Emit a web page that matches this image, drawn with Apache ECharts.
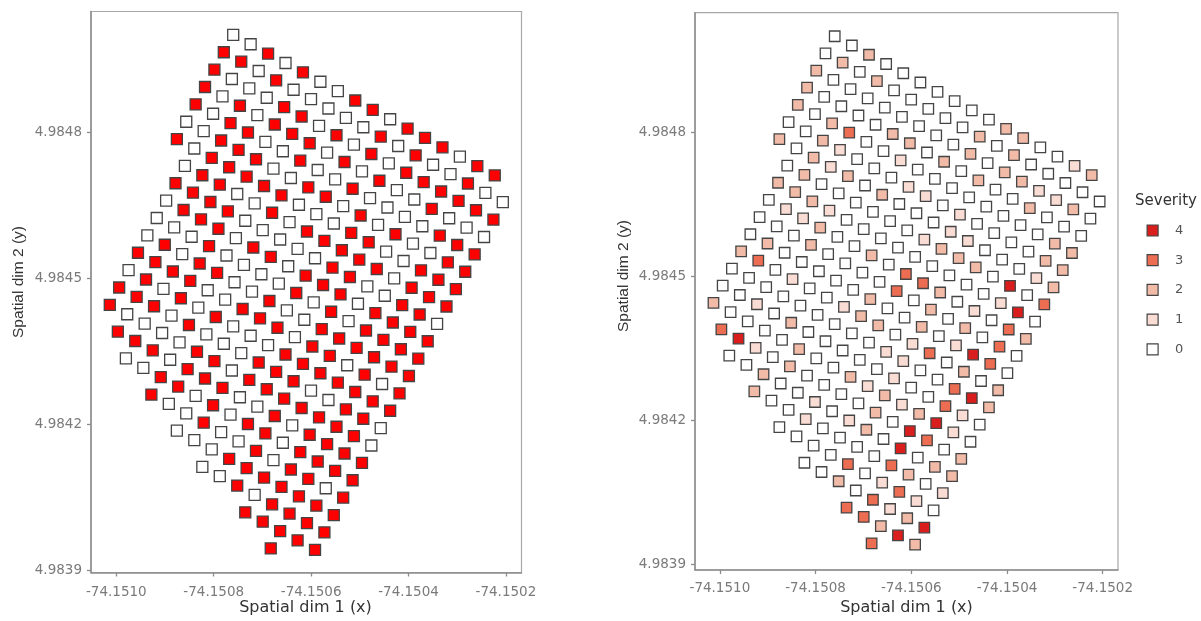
<!DOCTYPE html>
<html>
<head>
<meta charset="utf-8">
<script src="https://cdn.jsdelivr.net/npm/echarts@6/dist/echarts.min.js"></script>
<style>
html,body{margin:0;padding:0;background:#fff;}
#chart{width:1201px;height:621px;}
</style>
</head>
<body>
<div id="chart"></div>
<script>
// ---- Data: regular planting grid, read row by row (rows run down-right) ----
// lattice anchor (top plant) and the two lattice steps, in lon/lat degrees
const gridOrigin = [-74.150760, 4.985000];
const stepAlongRow = [3.5807e-5, -1.9267e-5];
const stepNextRow = [-1.9281e-5, -3.5716e-5];
// first column index present in each row
const rowFirstCol = [0,0,0,0,0,0,0,1,1,1,1,1,1,1,1,1,2,3,5,7,9,12,14];
// Panel A: infected (1) / healthy (0), one string per row
const infected = [
  "0010100110111011",
  "11010000010100100",
  "10001101010111111",
  "10101110101001000",
  "10110010010000111",
  "00111001101010011",
  "10111110001100111",
  "0110010111110111",
  "1111000001100110",
  "0111011011101111",
  "0001000010101111",
  "0101100100111111",
  "1111001110110101",
  "0101010001111111",
  "1110100011100110",
  "1000011011111110",
  "111011100101111",
  "00110101101111",
  "100100101101",
  "0001111111",
  "00101111",
  "11111",
  "1"
];
// Panel B: severity 0-4, one string per row
const severity = [
  "0020000000220012",
  "02020000020200000",
  "20000000020221120",
  "20000220202002000",
  "20230010000000022",
  "00210001101000022",
  "20212020001100012",
  "0200000012220403",
  "2221000000000140",
  "0112002033201032",
  "0002000030202030",
  "0200000200201430",
  "2301001220130202",
  "0000000001100342",
  "0010200000100310",
  "2000020021212410",
  "341020000204302",
  "00200101204022",
  "200100003201",
  "0000301310",
  "00203124",
  "33242",
  "3"
];
const severityLevels = ["4","3","2","1","0"];
const xTicks = [-74.1510, -74.1508, -74.1506, -74.1504, -74.1502];
const yTicks = [4.9839, 4.9842, 4.9845, 4.9848];

// ---- build point lists from the grid rows ----
function plantCoord(i, j) {
  return [gridOrigin[0] + i * stepAlongRow[0] + j * stepNextRow[0],
          gridOrigin[1] + i * stepAlongRow[1] + j * stepNextRow[1]];
}
const ptsA = [];
infected.forEach((row, j) => {
  for (let k = 0; k < row.length; k++) {
    const c = plantCoord(rowFirstCol[j] + k, j);
    ptsA.push([c[0], c[1], +row[k]]);
  }
});
const ptsB = [];
severity.forEach((row, j) => {
  for (let k = 0; k < row.length; k++) {
    const c = plantCoord(rowFirstCol[j] + k, j);
    ptsB.push([c[0], c[1], +row[k]]);
  }
});

const sevColors = {"0":"#FFFFFF","1":"#F9DCD3","2":"#F1BBA8","3":"#EC6D52","4":"#DA1E1E"};
const tickFont = "DejaVu Sans";
function makeX(idx, margin) {
  return {
    type: 'value', gridIndex: idx, min: -74.151052, max: -74.150168,
    splitLine: {show: false},
    axisLine: {show: true, onZero: false, lineStyle: {color: '#8c8c8c', width: 1.5}},
    axisTick: {show: true, length: 4, customValues: xTicks, lineStyle: {color: '#8c8c8c', width: 1.3}},
    axisLabel: {customValues: xTicks, formatter: v => v.toFixed(4), color: '#7a7a7a',
      fontFamily: tickFont, fontSize: 13.5, margin: margin}
  };
}
function makeY(idx, mn, mx) {
  return {
    type: 'value', gridIndex: idx, min: mn, max: mx,
    splitLine: {show: false},
    axisLine: {show: true, onZero: false, lineStyle: {color: '#8c8c8c', width: 1.5}},
    axisTick: {show: true, length: 4, customValues: yTicks, lineStyle: {color: '#8c8c8c', width: 1.3}},
    axisLabel: {customValues: yTicks, formatter: v => v.toFixed(4), color: '#7a7a7a',
      fontFamily: tickFont, fontSize: 13.5, margin: 9}
  };
}

const seriesB = severityLevels.map(s => ({
  name: s, type: 'scatter', xAxisIndex: 1, yAxisIndex: 1,
  symbol: 'rect', symbolSize: 10.5,
  itemStyle: {color: sevColors[s], borderColor: '#444', borderWidth: 1.3, opacity: 1},
  data: ptsB.filter(p => p[2] === +s)
})).reverse();

const chart = echarts.init(document.getElementById('chart'), null, {renderer: 'canvas'});
chart.setOption({
  animation: false,
  backgroundColor: '#fff',
  grid: [
    {left: 91, top: 11.5, width: 430.5, height: 561, show: true, borderColor: '#a8a8a8', borderWidth: 1.2, containLabel: false},
    {left: 695, top: 12.7, width: 423, height: 557.3, show: true, borderColor: '#a8a8a8', borderWidth: 1.2, containLabel: false}
  ],
  xAxis: [makeX(0, 13), makeX(1, 11)],
  yAxis: [makeY(0, 4.983895, 4.985048), makeY(1, 4.983889, 4.985049)],
  legend: {
    data: severityLevels, orient: 'vertical', left: 1146.5, top: 224, padding: 0,
    itemWidth: 11, itemHeight: 11, itemGap: 16.7, icon: 'rect',
    itemStyle: {borderColor: '#444', borderWidth: 1.2},
    textStyle: {color: '#555', fontSize: 13, fontFamily: tickFont, padding: [0, 0, 0, 12]},
    selectedMode: false
  },
  graphic: [
    {type: 'text', x: 305.5, y: 608, style: {text: 'Spatial dim 1 (x)', font: '16px "DejaVu Sans"', fill: '#333', align: 'center', verticalAlign: 'middle'}},
    {type: 'text', x: 906.5, y: 608, style: {text: 'Spatial dim 1 (x)', font: '16px "DejaVu Sans"', fill: '#333', align: 'center', verticalAlign: 'middle'}},
    {type: 'text', x: 19, y: 282, rotation: Math.PI / 2, style: {text: 'Spatial dim 2 (y)', font: '15.5px "Liberation Sans"', fill: '#333', align: 'center', verticalAlign: 'middle'}},
    {type: 'text', x: 624, y: 276, rotation: Math.PI / 2, style: {text: 'Spatial dim 2 (y)', font: '15.5px "Liberation Sans"', fill: '#333', align: 'center', verticalAlign: 'middle'}},
    {type: 'text', x: 1135, y: 201, style: {text: 'Severity', font: '15px "DejaVu Sans"', fill: '#333', align: 'left', verticalAlign: 'middle'}}
  ],
  series: [
    {
      name: 'Infection', type: 'scatter', xAxisIndex: 0, yAxisIndex: 0,
      symbol: 'rect', symbolSize: 11,
      itemStyle: {
        color: p => p.data[2] === 1 ? '#FF0000' : '#FFFFFF',
        borderColor: '#444', borderWidth: 1.3, opacity: 1
      },
      data: ptsA
    }
  ].concat(seriesB)
});
</script>
</body>
</html>
